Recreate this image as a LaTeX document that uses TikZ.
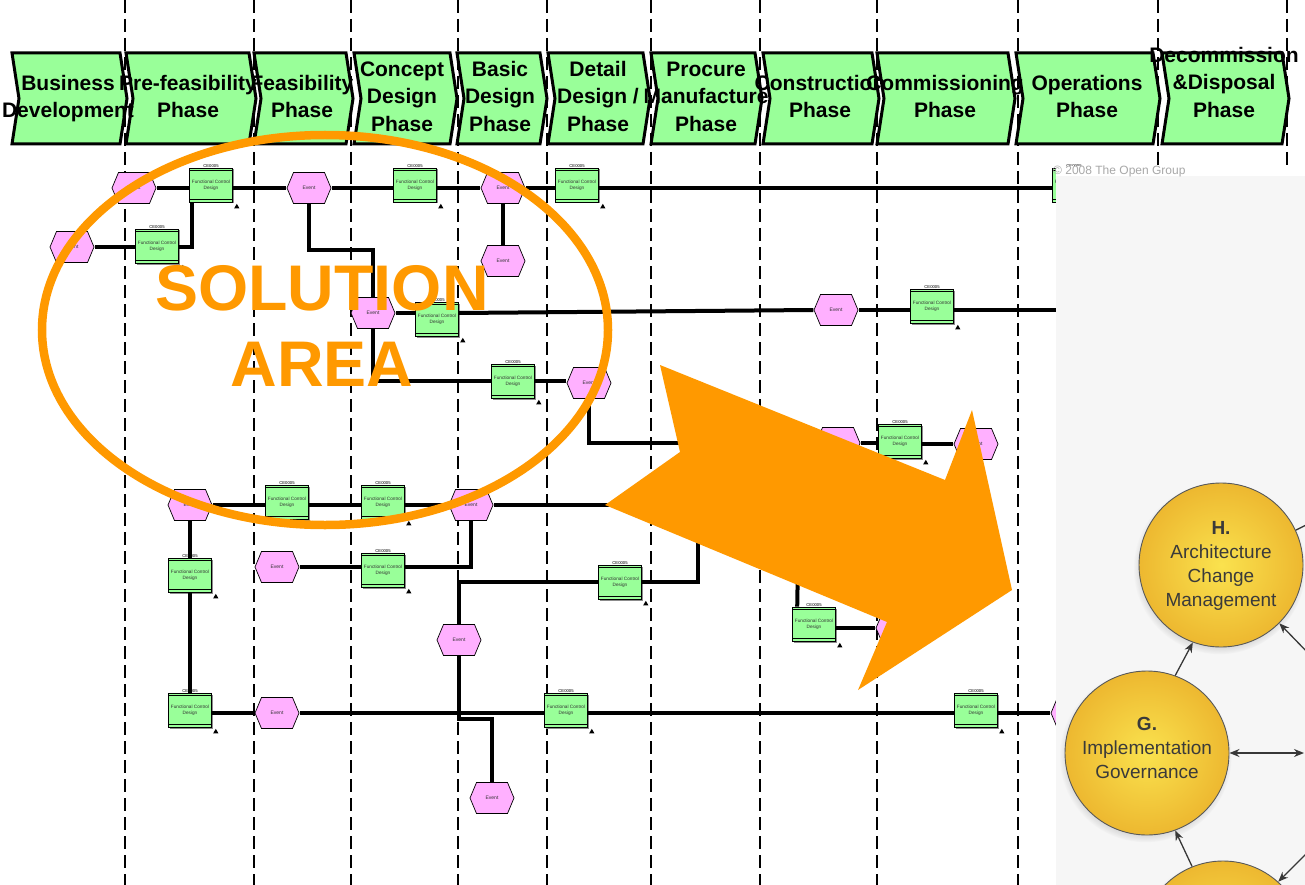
\documentclass[tikz,border=0pt]{standalone}
\usepackage{fontspec}
\setmainfont{Liberation Sans}
\usetikzlibrary{shapes.geometric, shadows, arrows.meta}

\definecolor{fngreen}{HTML}{99FF99}
\definecolor{evpink}{HTML}{FFB0FF}
\definecolor{hiorange}{HTML}{FF9900}
\definecolor{panelgray}{HTML}{F6F6F6}
\definecolor{adminner}{HTML}{FAE24E}
\definecolor{admouter}{HTML}{EDB830}
\definecolor{admtext}{HTML}{3A3A3A}
\definecolor{copygray}{HTML}{A8A8A8}

\newcommand\phasefont{\fontsize{21pt}{27.3pt}\selectfont\bfseries}
\newcommand\evfont{\fontsize{5pt}{6pt}\selectfont}
\newcommand\fnfont{\fontsize{4.7pt}{5.8pt}\selectfont}
\newcommand\cefont{\fontsize{4.2pt}{5pt}\selectfont}
\newcommand\admfont{\fontsize{19pt}{24pt}\selectfont}
\newcommand\solfont{\fontsize{64.5pt}{70pt}\selectfont\bfseries}

\tikzset{
  lane/.style={line width=1.6pt, dash pattern=on 13pt off 6pt},
  phasebox/.style={draw=black, line width=3pt, fill=fngreen, line join=miter},
  phasetext/.style={font=\phasefont, align=center, inner sep=0pt},
  conn/.style={line width=4pt},
  eventbox/.style={rectangle, minimum width=45pt, minimum height=32pt, inner sep=0pt,
    font=\evfont, text=black!80,
    path picture={
      \path[fill=evpink, draw=black, line width=0.7pt]
        ([xshift=0.5pt]path picture bounding box.west)
        -- ([xshift=7pt,yshift=-0.5pt]path picture bounding box.north west)
        -- ([xshift=-7pt,yshift=-0.5pt]path picture bounding box.north east)
        -- ([xshift=-0.5pt]path picture bounding box.east)
        -- ([xshift=-7pt,yshift=0.5pt]path picture bounding box.south east)
        -- ([xshift=7pt,yshift=0.5pt]path picture bounding box.south west) -- cycle;}},
  fnbox/.style={rectangle, draw=black, line width=0.6pt, fill=fngreen,
    minimum width=43pt, minimum height=34pt, inner sep=0pt, align=center,
    font=\fnfont, text=black!80,
    drop shadow={shadow xshift=1.5pt, shadow yshift=-1.5pt, fill=black!45, opacity=1},
    path picture={
      \draw[line width=0.5pt]
        ([yshift=-2.6pt]path picture bounding box.north west) -- ([yshift=-2.6pt]path picture bounding box.north east)
        ([yshift=2.6pt]path picture bounding box.south west) -- ([yshift=2.6pt]path picture bounding box.south east);},
    label distance=1.8pt,
    label={[font=\cefont, inner sep=0pt]above:CE0005}},
  trimark/.style={regular polygon, regular polygon sides=3, fill=black, inner sep=0pt, minimum size=6pt},
  admcirc/.style={circle, minimum size=164pt, inner sep=0pt, draw=black!65, line width=0.9pt,
    inner color=adminner, outer color=admouter,
    circular drop shadow={shadow xshift=-1.5pt, shadow yshift=-3pt, shadow scale=1.05, fill=black!40, opacity=0.5}},
  admtextstyle/.style={font=\admfont, text=admtext, align=center, inner sep=0pt},
  parrow/.style={draw=black!78, line width=1.3pt, -{Stealth[length=10pt,width=8pt]}},
  solring/.style={ellipse, draw=hiorange, line width=8.5pt, minimum width=566pt, minimum height=390pt, inner sep=0pt},
  soltext/.style={font=\solfont, text=hiorange, inner sep=0pt}
}

% one green phase chevron between left edge #1 and right edge #2
\newcommand\phasebar[2]{\draw[phasebox] (#1,53) -- (#2,53) -- (#2+7,98.5) -- (#2,144) -- (#1,144) -- (#1+7,98.5) -- cycle;}
% an event and a function with its marker
\newcommand\evt[2]{\node[eventbox] (#1) at (#2) {Event};}
\newcommand\fnc[2]{\node[fnbox] (#1) at (#2) {Functional Control\\Design};
  \node[trimark] (#1m) at ([xshift=4pt,yshift=-4.5pt]#1.south east) {};}

\begin{document}
\begin{tikzpicture}[x=1pt,y=-1pt]
\clip (0,0) rectangle (1305,885);
\fill[white] (0,0) rectangle (1305,885);

% lane separators
\foreach \lx in {125,254,351,458,547,651,760,877,1018,1158,1287}
  \draw[lane] (\lx,0) -- (\lx,885);

% phase chevrons
\phasebar{12}{120}
\phasebar{126}{249}
\phasebar{254}{346}
\phasebar{354}{450}
\phasebar{457}{540}
\phasebar{548}{643}
\phasebar{651}{755}
\phasebar{763}{872}
\phasebar{877}{1008}
\phasebar{1016}{1153}
\phasebar{1162}{1282}

\node[phasetext] (p1) at (68,98.5) {Business\strut\\Development\strut};
\node[phasetext] (p2) at (188,98.5) {Pre-feasibility\strut\\Phase\strut};
\node[phasetext] (p3) at (302,98.5) {Feasibility\strut\\Phase\strut};
\node[phasetext] (p4) at (402,98.5) {Concept\strut\\Design\strut\\Phase\strut};
\node[phasetext] (p5) at (500,98.5) {Basic\strut\\Design\strut\\Phase\strut};
\node[phasetext] (p6) at (598,98.5) {Detail\strut\\Design /\strut\\Phase\strut};
\node[phasetext] (p7) at (706,98.5) {Procure\strut\\Manufacture\strut\\Phase\strut};
\node[phasetext] (p8) at (820,98.5) {Construction\strut\\Phase\strut};
\node[phasetext] (p9) at (945,98.5) {Commissioning\strut\\Phase\strut};
\node[phasetext] (p10) at (1087,98.5) {Operations\strut\\Phase\strut};
\node[phasetext] (p11) at (1224,84.5) {Decommission\strut\\\&Disposal\strut\\Phase\strut};

% events
\evt{E1}{134,188}
\evt{E2}{309,188}
\evt{E3}{503,188}
\evt{E4}{72,247}
\evt{E5}{373,313}
\evt{E6}{503,261}
\evt{E7}{836,310}
\evt{E8}{589,383}
\evt{E9}{838,443}
\evt{E10}{976,444}
\evt{E11}{190,505}
\evt{E12}{471,505}
\evt{E13}{277,567}
\evt{E14}{459,640}
\evt{E15}{492,798}
\evt{E16}{898,628}
\evt{E17}{277,713}
\evt{E18}{1073,713}

% functions
\fnc{F1}{211,185}
\fnc{F2}{415,185}
\fnc{F3}{577,185}
\fnc{F4}{1074,185}
\fnc{F5}{157,246}
\fnc{F6}{437,319}
\fnc{F7}{932,306}
\fnc{F8}{513,381}
\fnc{F9}{900,441}
\fnc{F10}{287,502}
\fnc{F11}{383,502}
\fnc{F12}{620,582}
\fnc{F13}{383,570}
\fnc{F14}{190,575}
\fnc{F15}{814,624}
\fnc{F16}{190,710}
\fnc{F17}{566,710}
\fnc{F18}{976,710}

% free ends of flows running out of view
\coordinate (row2end) at (1060,310);
\coordinate (row4end) at (640,505);
\coordinate (row5up) at (698,530);
\coordinate (row5mid) at (798,560);

% process flow
\draw[conn] (E1.east) -- (E1.east -| F1.west);
\draw[conn] (F1.east |- E2) -- (E2.west);
\draw[conn] (E2.east) -- (E2.east -| F2.west);
\draw[conn] (F2.east |- E3) -- (E3.west);
\draw[conn] (E3.east) -- (E3.east -| F3.west);
\draw[conn] (F3.east |- E3) -- (F4.west |- E3);
\draw[conn] (E4.east) -- (E4.east -| F5.west);
\draw[conn] (F5.east |- E4) -| ([xshift=3pt]F1.south west);
\draw[conn] (E2.south) -- ++(0,46) -| (E5.north);
\draw[conn] (E3.south) -- (E6.north);
\draw[conn] (E5.east) -- (E5.east -| F6.west);
\draw[conn] (F6.east |- E5) -- (E7.west);
\draw[conn] (E7.east) -- (E7.east -| F7.west);
\draw[conn] (F7.east |- E7) -- (row2end);
\draw[conn] (E5.south) |- (F8.west);
\draw[conn] (F8.east) -- (F8.east -| E8.west);
\draw[conn] (E8.south) |- (E9.west);
\draw[conn] (E9.east) -- (E9.east -| F9.west);
\draw[conn] (F9.east |- E10) -- (E10.west);
\draw[conn] (E11.east) -- (E11.east -| F10.west);
\draw[conn] (F10.east |- E11) -- (F11.west |- E11);
\draw[conn] (F11.east |- E11) -- (E12.west);
\draw[conn] (E12.east) -- (row4end);
\draw[conn] (E11.south) -- (F14.north);
\draw[conn] (F14.south) -- (F16.north);
\draw[conn] (E13.east) -- (E13.east -| F13.west);
\draw[conn] (F13.east |- E13) -| (E12.south);
\draw[conn] (E14.north) |- (F12.west);
\draw[conn] (F12.east) -| (row5up);
\draw[conn] (E14.south) -- ++(0,63) -| (E15.north);
\draw[conn] ([xshift=5pt]F15.north west) -- (row5mid);
\draw[conn] (F15.east |- E16) -- (E16.west);
\draw[conn] (F16.east |- E17) -- (E17.west);
\draw[conn] (E17.east) -- (E17.east -| F17.west);
\draw[conn] (F17.east |- E17) -- (F18.west |- E17);
\draw[conn] (F18.east |- E17) -- (E18.west);

% architecture cycle panel
\fill[white] (1056,166) rectangle (1305,176);
\fill[panelgray] (1056,176) rectangle (1305,885);
\node[font=\fontsize{12pt}{14pt}\selectfont, text=copygray, anchor=west, inner sep=0pt] (copy) at (1053,171) {© 2008 The Open Group};

\node[admcirc] (H) at (1221,565) {};
\node[admcirc] (G) at (1147,753) {};
\node[admcirc] (C) at (1223,943) {};
\node[admtextstyle] (Ht) at (1221,566) {\textbf{H.}\strut\\Architecture\strut\\Change\strut\\Management\strut};
\node[admtextstyle] (Gt) at (1147,749.5) {\textbf{G.}\strut\\Implementation\strut\\Governance\strut};

\coordinate (Hin) at (1310,655);
\coordinate (Gout) at (1304,753);
\coordinate (Cin) at (1310,850);
\coordinate (Hout) at (1312,522);
\draw[parrow] (G.70) -- (H.250);
\draw[parrow] (Hin) -- (H.315);
\draw[parrow, {Stealth[length=10pt,width=8pt]}-{Stealth[length=10pt,width=8pt]}] (G.east) -- (Gout);
\draw[parrow] (C.112) -- (G.290);
\draw[parrow] (Cin) -- (C.48);
\draw[parrow, -] (H.25) -- (Hout);

% highlighted solution area and transfer arrow
\node[solring] (ring) at (325,330) {};
\node[soltext] (sol1) at (322,288) {SOLUTION};
\node[soltext] (sol2) at (322,364) {AREA};
\fill[hiorange] (660,365) -- (945,480) -- (972,410) -- (1012,590) -- (858,690)
  -- (887,622) -- (605,505) -- (680,452) -- cycle;
\end{tikzpicture}
\end{document}
